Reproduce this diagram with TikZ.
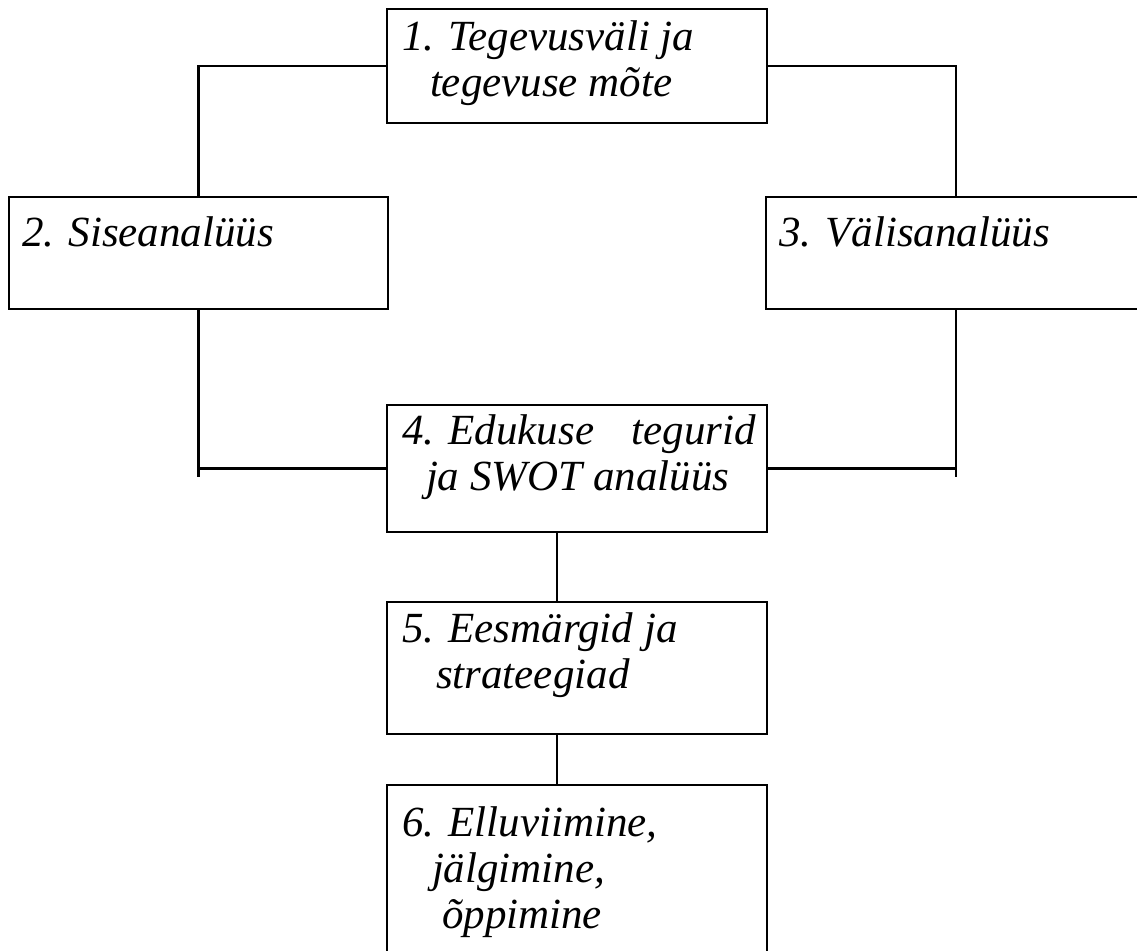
\documentclass[tikz,border=0pt]{standalone}
\usepackage{fontspec}
\setmainfont{Liberation Serif}
\usetikzlibrary{positioning}

\tikzset{
  box/.style={draw, line width=1.4pt, inner sep=0pt},
  txt/.style={anchor=north west, inner sep=0pt, align=left,
    font=\fontsize{21.5pt}{23pt}\selectfont\itshape},
  link/.style={line width=1.4pt}
}

\begin{document}
\begin{tikzpicture}[x=0.5pt, y=-0.5pt]
  \useasboundingbox (0,0) rectangle (1137,950);

  % Top and the two analysis boxes
  \node[box, minimum width=190pt, minimum height=57pt] (b1) at (577,66) {};
  \node[box, minimum width=189.5pt, minimum height=56pt] (b2) at (198.5,253) {};
  \node[box, minimum width=190pt, minimum height=56pt] (b3) at (956,253) {};

  % Middle column
  \node[box, minimum width=190pt, minimum height=63.5pt] (b4) at (577,468.5) {};
  \node[box, minimum width=190pt, minimum height=66pt] (b5) at (577,668) {};
  \node[box, minimum width=190pt, minimum height=90pt] (b6) at (577,875) {};

  % Texts
  \node[txt] (t1) at ([shift={(16,10)}]b1.north west)
    {\strut 1. Tegevusväli ja\\\hspace*{14pt}tegevuse mõte};
  \node[txt] (t2) at ([shift={(14,18)}]b2.north west) {\strut 2. Siseanalüüs};
  \node[txt] (t3) at ([shift={(14,18)}]b3.north west) {\strut 3. Välisanalüüs};
  \node[txt] (t4) at ([shift={(16,8)}]b4.north west)
    {\strut\makebox[177pt][l]{4. Edukuse\hfill tegurid}\\\hspace*{12pt}ja SWOT analüüs};
  \node[txt] (t5) at ([shift={(16,9)}]b5.north west)
    {\strut 5. Eesmärgid ja\\\hspace*{17pt}strateegiad};
  \node[txt] (t6) at ([shift={(16,20)}]b6.north west)
    {\strut 6. Elluviimine,\\\hspace*{15pt}jälgimine,\\\hspace*{20pt}õppimine};

  % Connectors
  \draw[link] (b1.west) -| (b2.north);
  \draw[link] (b1.east) -| (b3.north);
  \draw[link] (b2.south) |- (b4.west);
  \draw[link] (b2.south |- b4.west) -- ++(0,8);
  \draw[link] (b3.south) |- (b4.east);
  \draw[link] (b3.south |- b4.east) -- ++(0,8);
  \draw[link] ([xshift=-10pt]b5.north) -- ([xshift=-10pt]b5.north |- b4.south);
  \draw[link] ([xshift=-10pt]b5.south) -- ([xshift=-10pt]b5.south |- b6.north);
\end{tikzpicture}
\end{document}
